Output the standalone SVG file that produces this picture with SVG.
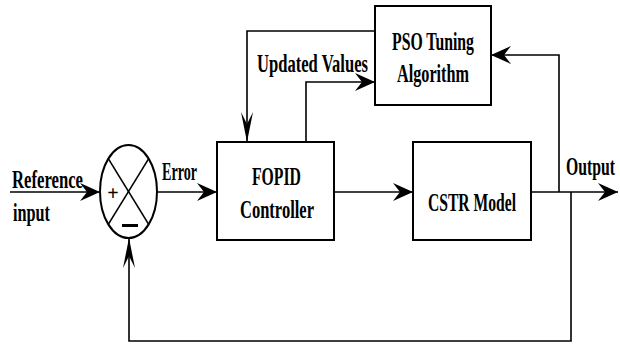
<svg xmlns="http://www.w3.org/2000/svg" width="620" height="345" viewBox="0 0 620 345">
  <style>
    .box { fill: #ffffff; stroke: #000000; stroke-width: 2; }
    .ln { fill: none; stroke: #000000; stroke-width: 1.6; }
    .t { font-family: "Liberation Serif", "Times New Roman", serif; font-weight: bold; font-size: 26px; fill: #000000; }
    .sign { font-family: "Liberation Serif", "Times New Roman", serif; font-weight: bold; font-size: 20px; fill: #000000; text-anchor: middle; }
  </style>
  <defs>
    <marker id="ah" markerUnits="userSpaceOnUse" viewBox="-21 -10 22 20" refX="0" refY="0" markerWidth="22" markerHeight="20" orient="auto">
      <path d="M0,0 L-20,-9 L-13,0 L-20,9 Z" fill="#000000"/>
    </marker>
    <marker id="av" markerUnits="userSpaceOnUse" viewBox="-31 -7 32 14" refX="0" refY="0" markerWidth="32" markerHeight="14" orient="auto">
      <path d="M0,0 L-30,-6 L-18,0 L-30,6 Z" fill="#000000"/>
    </marker>
  </defs>
  <rect width="620" height="345" fill="#ffffff"/>

  <g id="connectors">
    <line class="ln" x1="10" y1="192" x2="100" y2="192" marker-end="url(#ah)"/>
    <line class="ln" x1="157" y1="192" x2="217" y2="192" marker-end="url(#ah)"/>
    <line class="ln" x1="334" y1="192" x2="413" y2="192" marker-end="url(#ah)"/>
    <line class="ln" x1="531" y1="192" x2="618" y2="192" marker-end="url(#ah)"/>
    <polyline class="ln" points="559,192 559,55 491,55" marker-end="url(#ah)"/>
    <polyline class="ln" points="571,192 571,341 129,341 129,238" marker-end="url(#av)"/>
    <polyline class="ln" points="375,31 247,31 247,142" marker-end="url(#av)"/>
    <polyline class="ln" points="306,142 306,82 375,82" marker-end="url(#ah)"/>
    <text class="t" x="12" y="188" textLength="71" lengthAdjust="spacingAndGlyphs">Reference</text>
    <text class="t" x="13" y="221" textLength="37" lengthAdjust="spacingAndGlyphs">input</text>
    <text class="t" x="162" y="180" textLength="35" lengthAdjust="spacingAndGlyphs">Error</text>
    <text class="t" x="257" y="72" textLength="111" lengthAdjust="spacingAndGlyphs">Updated Values</text>
    <text class="t" x="566" y="175" textLength="49" lengthAdjust="spacingAndGlyphs">Output</text>
  </g>

  <g id="sum">
    <ellipse class="box" cx="128.5" cy="191.5" rx="28.5" ry="46.5"/>
    <line class="ln" x1="108.3" y1="158.6" x2="148.7" y2="224.4"/>
    <line class="ln" x1="148.7" y1="158.6" x2="108.3" y2="224.4"/>
    <text class="sign" x="113" y="200">+</text>
    <rect x="122" y="224" width="16" height="3" fill="#000000"/>
  </g>

  <g id="fopid">
    <rect class="box" x="217" y="142" width="117" height="98"/>
    <text class="t" x="252" y="185" textLength="49" lengthAdjust="spacingAndGlyphs">FOPID</text>
    <text class="t" x="240" y="218" textLength="74" lengthAdjust="spacingAndGlyphs">Controller</text>
  </g>

  <g id="cstr">
    <rect class="box" x="413" y="142" width="118" height="98"/>
    <text class="t" x="428" y="211" textLength="88" lengthAdjust="spacingAndGlyphs">CSTR Model</text>
  </g>

  <g id="pso">
    <rect class="box" x="375" y="6" width="116" height="99"/>
    <text class="t" x="392" y="50" textLength="82" lengthAdjust="spacingAndGlyphs">PSO Tuning</text>
    <text class="t" x="397" y="82" textLength="72" lengthAdjust="spacingAndGlyphs">Algorithm</text>
  </g>
</svg>
